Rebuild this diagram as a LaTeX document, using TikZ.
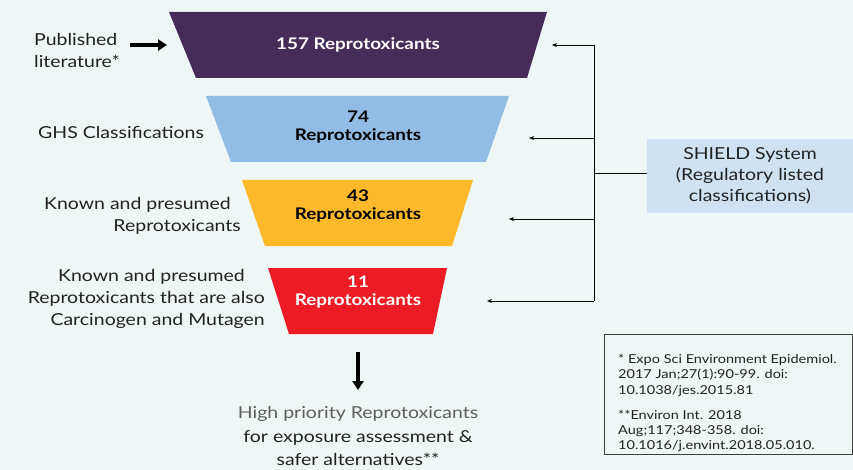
\documentclass[tikz,border=0pt]{standalone}
\usepackage{fontspec}
\setmainfont[FakeStretch=1.18]{Lato}
\usetikzlibrary{arrows.meta}
\definecolor{bgc}{HTML}{EFF6F6}
\definecolor{purp}{HTML}{462C59}
\definecolor{bluef}{HTML}{92BCE4}
\definecolor{orangef}{HTML}{FDB92A}
\definecolor{redf}{HTML}{ED1C24}
\definecolor{shieldf}{HTML}{CFE2F3}
\definecolor{txt}{HTML}{222222}
\definecolor{graytxt}{HTML}{5E5E5E}
\tikzset{
  lbl/.style={text=txt, font=\fontsize{16.5}{22}\selectfont, inner sep=0pt},
  funneltxt/.style={font=\bfseries\fontsize{16}{18}\selectfont, align=center, inner sep=0pt},
  thinarrow/.style={draw=black, line width=0.8pt, -{Stealth[length=5pt,width=4pt]}},
  thinline/.style={draw=black, line width=0.8pt},
  bigarrow/.style={draw=black, line width=3.5pt, -{Triangle[length=9pt,width=11pt]}},
}
\begin{document}
\begin{tikzpicture}[x=1pt,y=-1pt]
\fill[bgc] (0,0) rectangle (853,470);
\useasboundingbox (0,0) rectangle (853,470);

% funnel
\fill[purp] (169,12) -- (547,12) -- (527,78) -- (196,78) -- cycle;
\fill[bluef] (206,96) -- (509,96) -- (486,162) -- (231,162) -- cycle;
\fill[orangef] (242,180) -- (473,180) -- (452,246) -- (265,246) -- cycle;
\fill[redf] (268,268) -- (447,268) -- (433,334) -- (289,334) -- cycle;

\node[funneltxt, text=white] (t1) at (358,45) {157 Reprotoxicants};
\node[funneltxt, text=black] (t2) at (358,127) {74\\Reprotoxicants};
\node[funneltxt, text=black] (t3) at (358,206) {43\\Reprotoxicants};
\node[funneltxt, text=white] (t4) at (358,292) {11\\Reprotoxicants};

% left labels
\node[lbl, anchor=west, align=left] (pub) at (34,50) {Published\\literature*};
\coordinate (pubs) at (130,45);
\coordinate (pube) at (167,45);
\draw[bigarrow] (pubs) -- (pube);
\node[lbl, anchor=west] (ghs) at (38,132) {GHS Classifications};
\node[lbl, anchor=east, align=right] (kp) at (241,216) {Known and presumed\hspace*{10pt}\\Reprotoxicants};
\node[lbl, anchor=east, align=right] (kpc) at (265,299) {Known and presumed\hspace*{20pt}\\Reprotoxicants that are also\hspace*{9pt}\\Carcinogen and Mutagen};

% SHIELD
\node[fill=shieldf, minimum width=206pt, minimum height=74pt, inner sep=0pt, align=center, text=txt, font=\fontsize{16.5}{21}\selectfont] (shield) at (750,176) {SHIELD System\\(Regulatory listed\\classifications)};
\coordinate (j) at (594,173);
\coordinate (jt) at (594,45);
\coordinate (jb) at (594,301);
\coordinate (j2) at (594,138);
\coordinate (j3) at (594,219);
\coordinate (a1) at (552,45);
\coordinate (a2) at (529,138);
\coordinate (a3) at (509,219);
\coordinate (a4) at (487,301);
\draw[thinline] (shield.west |- j) -- (j);
\draw[thinline] (jt) -- (jb);
\draw[thinarrow] (jt) -- (a1);
\draw[thinarrow] (j2) -- (a2);
\draw[thinarrow] (j3) -- (a3);
\draw[thinarrow] (jb) -- (a4);

% bottom
\coordinate (ds) at (358,352);
\coordinate (de) at (358,390);
\draw[bigarrow] (ds) -- (de);
\node[lbl, align=center, font=\fontsize{16.5}{23.5}\selectfont] (hp) at (358,436) {\textcolor{graytxt}{High priority Reprotoxicants}\\for exposure assessment \&\\safer alternatives**};

% references
\node[draw=black!75, line width=1pt, minimum width=248pt, minimum height=120pt, inner sep=0pt] (refbox) at (728,394) {};
\node[anchor=north west, align=left, inner sep=0pt, text=txt, font=\fontsize{12.3}{15.3}\selectfont] (refs) at (618,354) {* Expo Sci Environment Epidemiol.\\2017 Jan;27(1):90-99. doi:\\10.1038/jes.2015.81\\[9.7pt]**Environ Int. 2018\\Aug;117;348-358. doi:\\10.1016/j.envint.2018.05.010.};
\end{tikzpicture}
\end{document}
